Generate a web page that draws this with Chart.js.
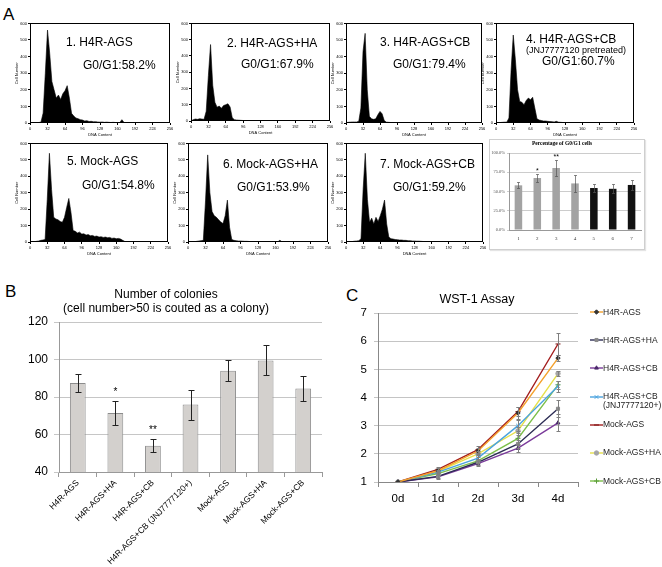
<!DOCTYPE html>
<html><head><meta charset="utf-8">
<script src="https://cdn.jsdelivr.net/npm/chart.js@4.4.0/dist/chart.umd.min.js"></script>
<style>
html,body{margin:0;padding:0;background:#fff;}
#root{position:relative;width:662px;height:567px;overflow:hidden;background:#fff;font-family:"Liberation Sans",Arial,sans-serif;color:#000;}
.box{position:absolute;}
.box canvas{display:block;}
.t{position:absolute;white-space:nowrap;line-height:1;}
</style></head><body><div id="root"></div>
<script>
// ---------------- DATA ----------------
// Panel A: DNA content histograms (bin start on DNA axis 0-256, cell counts)
const DNA_BINS = [0,4,8,12,16,20,24,28,32,36,40,44,48,52,56,60,64,68,72,76,80,84,88,92,96,100,104,108,112,116,120,124,128,132,136,140,144,148,152,156,160,164,168,172,176,180,184,188,192];
const HIST_H4R_AGS       = [0,0,0,2,3,5,60,300,560,420,250,200,150,168,142,176,195,225,150,58,42,30,26,20,18,12,14,9,10,7,8,6,5,6,4,5,4,3,4,3,3,2,20,3,2,2,1,0,0];
const HIST_H4R_AGS_HA    = [0,8,12,10,14,12,10,60,280,470,220,115,85,92,78,95,100,106,86,20,8,6,5,4,3,3,2,2,2,1,1,1,1,1,1,0,0,0,0,0,0,0,0,0,0,0,0,0,0];
const HIST_H4R_AGS_CB    = [2,4,5,6,6,6,10,90,430,540,200,40,25,22,25,50,70,55,15,5,4,3,3,2,2,2,1,1,1,1,1,0,0,0,0,0,0,0,0,0,0,0,0,0,0,0,0,0,0];
const HIST_H4R_AGS_CB_JNJ= [0,2,3,4,5,5,30,320,530,380,200,130,125,110,135,150,140,155,90,25,18,15,12,12,10,9,8,6,10,5,4,3,3,2,2,2,2,1,1,1,1,1,0,0,0,0,0,0,0];
const HIST_MOCK_AGS      = [0,0,2,4,6,10,12,15,260,540,320,150,140,135,125,120,150,210,265,180,70,65,55,60,48,50,42,45,38,40,34,36,30,32,28,30,26,28,22,24,20,22,18,10,3,1,0,0,0];
const HIST_MOCK_AGS_HA   = [0,0,1,2,4,6,8,10,250,530,300,185,160,150,135,122,112,160,255,90,15,10,8,6,6,5,4,4,3,3,3,2,2,2,2,2,1,1,1,1,1,1,10,1,0,0,0,0,0];
const HIST_MOCK_AGS_CB   = [0,0,2,3,5,6,8,20,320,540,260,120,145,110,150,125,160,200,255,110,30,20,18,15,14,12,12,10,10,8,8,6,6,5,5,4,3,2,2,1,1,0,0,0,0,0,0,0,0];
const HIST_TITLES = ['1. H4R-AGS','2. H4R-AGS+HA','3. H4R-AGS+CB','4. H4R-AGS+CB','5. Mock-AGS','6. Mock-AGS+HA','7. Mock-AGS+CB'];
const HIST_G01    = ['G0/G1:58.2%','G0/G1:67.9%','G0/G1:79.4%','G0/G1:60.7%','G0/G1:54.8%','G0/G1:53.9%','G0/G1:59.2%'];
const HIST_SUB4   = '(JNJ7777120 pretreated)';

// Panel A inset: percentage of G0/G1 cells
const G01_GROUPS = ['1','2','3','4','5','6','7'];
const G01_MEAN   = [58, 67.5, 80.5, 60.5, 54.5, 53.5, 58.5];
const G01_ERR    = [4, 5, 10, 11, 5, 6, 7];
const G01_STARS  = ['', '*', '**', '', '', '', ''];

// Panel B: number of colonies
const COLONY_GROUPS = ['H4R-AGS','H4R-AGS+HA','H4R-AGS+CB','H4R-AGS+CB (JNJ7777120+)','Mock-AGS','Mock-AGS+HA','Mock-AGS+CB'];
const COLONY_MEAN   = [87.5, 71.5, 54, 76, 94, 99.5, 84.5];
const COLONY_ERR    = [5, 6.5, 3.5, 8, 5.5, 8, 6.5];
const COLONY_STARS  = ['', '*', '**', '', '', '', ''];

// Panel C: WST-1 assay
const WST_DAYS = ['0d','1d','2d','3d','4d'];
const WST_NAMES = ['H4R-AGS','H4R-AGS+HA','H4R-AGS+CB','H4R-AGS+CB (JNJ7777120+)','Mock-AGS','Mock-AGS+HA','Mock-AGS+CB'];
const WST_H4R_AGS        = [1, 1.40, 2.10, 3.45, 5.40];
const WST_H4R_AGS_HA     = [1, 1.20, 1.70, 2.35, 3.60];
const WST_H4R_AGS_CB     = [1, 1.18, 1.65, 2.20, 3.10];
const WST_H4R_AGS_CB_JNJ = [1, 1.35, 1.85, 3.00, 4.40];
const WST_MOCK_AGS       = [1, 1.45, 2.15, 3.50, 5.90];
const WST_MOCK_AGS_HA    = [1, 1.38, 2.00, 2.82, 4.85];
const WST_MOCK_AGS_CB    = [1, 1.30, 1.75, 2.55, 4.45];
const WST_ERR_H4R_AGS        = [0, 0.08, 0.10, 0.20, 0.10];
const WST_ERR_H4R_AGS_HA     = [0, 0.05, 0.10, 0.15, 0.30];
const WST_ERR_H4R_AGS_CB     = [0, 0.06, 0.08, 0.12, 0.30];
const WST_ERR_H4R_AGS_CB_JNJ = [0, 0.05, 0.10, 0.20, 0.20];
const WST_ERR_MOCK_AGS       = [0, 0.10, 0.12, 0.15, 0.40];
const WST_ERR_MOCK_AGS_HA    = [0, 0.05, 0.10, 0.15, 0.10];
const WST_ERR_MOCK_AGS_CB    = [0, 0.05, 0.08, 0.20, 0.15];

// ---------------- RENDER ----------------
const FONT = '"Liberation Sans", Arial, sans-serif';
const SERIF = '"Liberation Serif", "Times New Roman", serif';
Chart.defaults.font.family = FONT;
Chart.defaults.color = '#000';
const root = document.getElementById('root');

function placeCanvas(x, y, w, h) {
  const d = document.createElement('div');
  d.className = 'box';
  Object.assign(d.style, {left:x+'px', top:y+'px', width:w+'px', height:h+'px'});
  const c = document.createElement('canvas');
  c.width = w; c.height = h; c.style.width = w+'px'; c.style.height = h+'px';
  d.appendChild(c); root.appendChild(d);
  return c;
}
function addText(html, x, y, css) {
  const d = document.createElement('div');
  d.className = 't';
  d.innerHTML = html;
  Object.assign(d.style, {left:x+'px', top:y+'px'}, css || {});
  root.appendChild(d);
  return d;
}

const framePlugin = {
  id: 'frame',
  afterDatasetsDraw(chart, args, opts) {
    if (!opts || !opts.on) return;
    const {ctx, chartArea:a} = chart;
    ctx.save();
    ctx.strokeStyle = opts.color || '#000';
    ctx.lineWidth = opts.width || 1;
    ctx.strokeRect(Math.round(a.left)+0.5, Math.round(a.top)+0.5, Math.round(a.right-a.left)-1, Math.round(a.bottom-a.top)-1);
    ctx.restore();
  }
};
const errPlugin = {
  id: 'errbars',
  afterDatasetsDraw(chart) {
    const {ctx} = chart;
    const ys = chart.scales.y;
    chart.data.datasets.forEach((ds, di) => {
      if (!ds.errors) return;
      const meta = chart.getDatasetMeta(di);
      ctx.save();
      ctx.strokeStyle = ds.errorColor || '#000';
      ctx.lineWidth = ds.errorWidth || 1;
      meta.data.forEach((el, i) => {
        const v = ds.data[i], e = ds.errors[i];
        if (!e) return;
        const x = Math.round(el.x) + 0.5;
        const y1 = Math.round(ys.getPixelForValue(v + e)) + 0.5;
        const y2 = Math.round(ys.getPixelForValue(v - e)) + 0.5;
        const c = ds.errorCap || 3;
        ctx.beginPath();
        ctx.moveTo(x, y1); ctx.lineTo(x, y2);
        ctx.moveTo(x - c, y1); ctx.lineTo(x + c, y1);
        ctx.moveTo(x - c, y2); ctx.lineTo(x + c, y2);
        ctx.stroke();
      });
      if (ds.stars) {
        ctx.fillStyle = '#000';
        ctx.font = ds.starFont || ('10px ' + FONT);
        ctx.textAlign = 'center';
        ctx.textBaseline = 'alphabetic';
        meta.data.forEach((el, i) => {
          const s = ds.stars[i];
          if (!s) return;
          ctx.fillText(s, el.x, ys.getPixelForValue(ds.data[i] + ds.errors[i]) - (ds.starGap || 4));
        });
      }
      ctx.restore();
    });
  }
};
Chart.register(framePlugin, errPlugin);

// Panel letters
addText('A', 3, 6, {fontSize:'17px'});
addText('B', 5, 283, {fontSize:'17px'});
addText('C', 346, 287, {fontSize:'17px'});

// ---- Panel A histograms ----
const HIST_DATA = [HIST_H4R_AGS, HIST_H4R_AGS_HA, HIST_H4R_AGS_CB, HIST_H4R_AGS_CB_JNJ, HIST_MOCK_AGS, HIST_MOCK_AGS_HA, HIST_MOCK_AGS_CB];
const HIST_FRAMES = [[30,23,170,123],[191,23,330,121],[346,23,482,123],[496,23,634,123],[30,143,168,242],[188,143,328,242],[346,143,483,242]];
const HIST_TITLE_POS = [[66,36],[227,37],[380,36],[526,33],[67,155],[223,158],[380,158]];
const HIST_G01_POS   = [[83,59],[241,58],[393,58],[542,55],[82,179],[237,181],[393,181]];

HIST_DATA.forEach((vals, k) => {
  const [L, T, R, B] = HIST_FRAMES[k];
  const c = placeCanvas(L-16, T-3, R-L+22, B-T+17);
  new Chart(c, {
    type: 'line',
    data: { datasets: [{
      data: vals.map((v, i) => ({x: DNA_BINS[i], y: v})),
      fill: 'origin', backgroundColor: '#000', borderColor: '#000', borderWidth: 0.6,
      pointRadius: 0, tension: 0
    }]},
    options: {
      responsive: false, animation: false, events: [],
      layout: {padding: {left:0, top:3, right:6, bottom:0}},
      plugins: {legend:{display:false}, tooltip:{enabled:false}, frame:{on:true, color:'#000', width:1}},
      scales: {
        x: {type:'linear', min:0, max:256, afterFit: s => { s.height = 14; },
            ticks:{stepSize:32, font:{size:4}, padding:1, maxRotation:0, autoSkip:false, color:'#000'},
            grid:{display:true, drawOnChartArea:false, tickLength:2, color:'#000'},
            border:{display:false},
            title:{display:true, text:'DNA Content', font:{size:4}, padding:0, color:'#000'}},
        y: {min:0, max:600, afterFit: s => { s.width = 16; },
            ticks:{stepSize:100, font:{size:4}, padding:1, color:'#000'},
            grid:{display:true, drawOnChartArea:false, tickLength:2, color:'#000'},
            border:{display:false},
            title:{display:true, text:'Cell Number', font:{size:4}, padding:0, color:'#000'}}
      }
    }
  });
  addText(HIST_TITLES[k], HIST_TITLE_POS[k][0], HIST_TITLE_POS[k][1], {fontSize:'12px'});
  addText(HIST_G01[k], HIST_G01_POS[k][0], HIST_G01_POS[k][1], {fontSize:'12px'});
});
addText(HIST_SUB4, 526, 46, {fontSize:'9px'});

// ---- Panel A inset bar chart ----
(function(){
  const frame = document.createElement('div');
  Object.assign(frame.style, {position:'absolute', left:'489px', top:'139px', width:'154px', height:'109px', border:'1px solid #cfcfcf', boxShadow:'1px 1px 1px #e4e4e4'});
  root.appendChild(frame);
  const c = placeCanvas(489, 139, 155, 110);
  new Chart(c, {
    type: 'bar',
    data: { labels: G01_GROUPS, datasets: [{
      data: G01_MEAN, errors: G01_ERR, stars: G01_STARS,
      backgroundColor: ['#a3a3a3','#a3a3a3','#a3a3a3','#a3a3a3','#111111','#111111','#111111'],
      borderWidth: 0, barPercentage: 0.4, categoryPercentage: 1,
      errorColor: '#555', errorCap: 1.5, errorWidth: 0.7, starGap: 1.5, starFont: '7px ' + FONT
    }]},
    options: {
      responsive: false, animation: false, events: [],
      layout: {padding: {left:0, top:14, right:3, bottom:0}},
      plugins: {legend:{display:false}, tooltip:{enabled:false}},
      scales: {
        x: {afterFit: s => { s.height = 19; },
            ticks:{font:{size:5, family:SERIF}, color:'#333', padding:6},
            grid:{display:false, drawTicks:false}, border:{display:true, color:'#999'}},
        y: {min:0, max:100, afterFit: s => { s.width = 20; },
            ticks:{stepSize:25, font:{size:4.5, family:SERIF}, color:'#555', padding:2, callback: v => v.toFixed(1) + '%'},
            grid:{color:'#cccccc', tickLength:2}, border:{color:'#999'}}
      }
    }
  });
  addText('Percentage of G0/G1 cells', 489, 141, {width:'146px', textAlign:'center', fontSize:'5.5px', fontWeight:'bold', fontFamily:SERIF});
})();

// ---- Panel B ----
(function(){
  const c = placeCanvas(0, 280, 330, 287);
  new Chart(c, {
    type: 'bar',
    data: { labels: COLONY_GROUPS, datasets: [{
      data: COLONY_MEAN, errors: COLONY_ERR, stars: COLONY_STARS,
      backgroundColor: '#d3d0cd', borderColor: '#8c8c8c', borderWidth: 1,
      barPercentage: 0.42, categoryPercentage: 1,
      errorColor: '#222', errorCap: 3, errorWidth: 1, starGap: 6, starFont: '10px ' + FONT
    }]},
    options: {
      responsive: false, animation: false, events: [],
      layout: {padding: {left:0, top:42, right:8, bottom:0}},
      plugins: {legend:{display:false}, tooltip:{enabled:false}},
      scales: {
        x: {afterFit: s => { s.height = 95; },
            ticks:{minRotation:45, maxRotation:45, autoSkip:false, font:{size:8.5}, color:'#000', padding:1},
            grid:{offset:true, drawOnChartArea:false, tickLength:5, color:'#999'}, border:{color:'#999'}},
        y: {min:40, max:120, afterFit: s => { s.width = 59; },
            ticks:{stepSize:20, font:{size:12}, color:'#000', padding:6},
            grid:{color:'#c6c6c6', tickLength:5}, border:{color:'#999'}}
      }
    }
  });
  addText('Number of colonies<br>(cell number&gt;50 is couted as a colony)', 0, 287, {width:'332px', textAlign:'center', fontSize:'12px', lineHeight:'14px'});
})();

// ---- Panel C ----
(function(){
  const SERIES = [
    {name:WST_NAMES[0], data:WST_H4R_AGS,        err:WST_ERR_H4R_AGS,        line:'#f4a12c', mark:'#333333', style:'rectRot',  r:2.2},
    {name:WST_NAMES[1], data:WST_H4R_AGS_HA,     err:WST_ERR_H4R_AGS_HA,     line:'#2c2c54', mark:'#8a8a8a', style:'rect',     r:2.2},
    {name:WST_NAMES[2], data:WST_H4R_AGS_CB,     err:WST_ERR_H4R_AGS_CB,     line:'#7a3a9a', mark:'#4a2a6a', style:'triangle', r:2.2},
    {name:WST_NAMES[3], data:WST_H4R_AGS_CB_JNJ, err:WST_ERR_H4R_AGS_CB_JNJ, line:'#4aa3df', mark:'#4aa3df', style:'crossRot', r:2.5},
    {name:WST_NAMES[4], data:WST_MOCK_AGS,       err:WST_ERR_MOCK_AGS,       line:'#a31d1d', mark:'#7a1010', style:'line',     r:2.5},
    {name:WST_NAMES[5], data:WST_MOCK_AGS_HA,    err:WST_ERR_MOCK_AGS_HA,    line:'#e6e04a', mark:'#a6a6a6', style:'circle',   r:2.2},
    {name:WST_NAMES[6], data:WST_MOCK_AGS_CB,    err:WST_ERR_MOCK_AGS_CB,    line:'#7cbf4a', mark:'#5a9a3a', style:'cross',    r:2.5}
  ];
  const c = placeCanvas(330, 280, 332, 287);
  const chart = new Chart(c, {
    type: 'line',
    data: { labels: WST_DAYS, datasets: SERIES.map(s => ({
      label: s.name, data: s.data, errors: s.err,
      borderColor: s.line, borderWidth: 1.4, tension: 0,
      pointStyle: s.style, pointRadius: s.r, pointBackgroundColor: s.mark, pointBorderColor: s.mark, pointBorderWidth: 1,
      errorColor: '#7f7f7f', errorCap: 2, errorWidth: 1
    }))},
    options: {
      responsive: false, animation: false, events: [],
      layout: {padding: {left:0, top:33, right:84, bottom:0}},
      plugins: {legend:{display:false}, tooltip:{enabled:false}},
      scales: {
        x: {offset:true, afterFit: s => { s.height = 85; },
            ticks:{font:{size:11.5}, color:'#000', padding:5},
            grid:{offset:true, drawOnChartArea:false, tickLength:5, color:'#888'}, border:{color:'#888'}},
        y: {min:1, max:7, afterFit: s => { s.width = 48; },
            ticks:{stepSize:1, font:{size:11.5}, color:'#000', padding:7},
            grid:{color:'#c4c4c4', tickLength:4}, border:{color:'#888'}}
      }
    }
  });
  addText('WST-1 Assay', 377, 292, {width:'200px', textAlign:'center', fontSize:'12.5px', lineHeight:'14px'});
  // legend
  const ys = chart.scales.y;
  SERIES.forEach((s, i) => {
    const cy = 280 + ys.getPixelForValue(7 - i) - 1;
    const lc = document.createElement('canvas');
    lc.width = 15; lc.height = 10;
    Object.assign(lc.style, {position:'absolute', left:'589px', top:(cy-5)+'px', width:'15px', height:'10px'});
    root.appendChild(lc);
    const ctx = lc.getContext('2d');
    ctx.strokeStyle = s.line; ctx.lineWidth = 1.4;
    ctx.beginPath(); ctx.moveTo(1, 5); ctx.lineTo(14, 5); ctx.stroke();
    ctx.fillStyle = s.mark; ctx.strokeStyle = s.mark; ctx.lineWidth = 1;
    try { Chart.helpers.drawPoint(ctx, {pointStyle:s.style, radius:s.r, rotation:0, borderWidth:1}, 7.5, 5); }
    catch (e) { ctx.fillRect(6, 3.5, 3, 3); }
    const txt = s.name.replace(' (', '<br>(');
    addText(txt, 603, cy - 4.5, {fontSize:'8.5px', lineHeight:'9px', color:'#222'});
  });
})();
</script>
</body></html>
